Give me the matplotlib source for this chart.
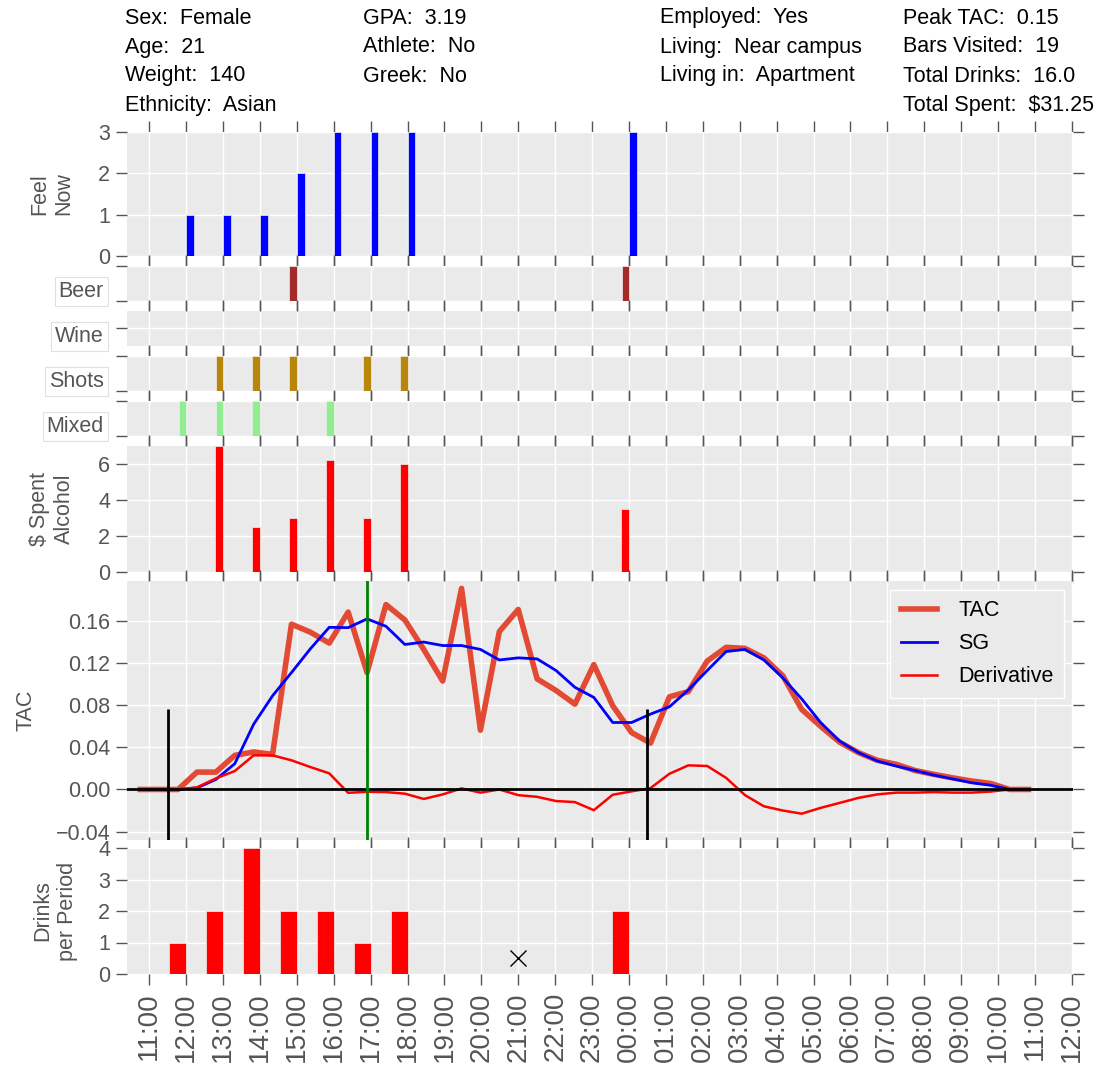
import matplotlib
matplotlib.use("Agg")
import matplotlib.pyplot as plt
import numpy as np
from matplotlib.ticker import FuncFormatter

plt.rcParams['font.family'] = ['Liberation Sans', 'DejaVu Sans']

# participant summary shown above the panels
col_personal = ["Sex:  Female", "Age:  21", "Weight:  140", "Ethnicity:  Asian"]
col_school = ["GPA:  3.19", "Athlete:  No", "Greek:  No"]
col_living = ["Employed:  Yes", "Living:  Near campus", "Living in:  Apartment"]
col_totals = ["Peak TAC:  0.15", "Bars Visited:  19", "Total Drinks:  16.0", "Total Spent:  $31.25"]

# hourly survey answers (hours counted from midnight of the first day)
feel_hours = [12, 13, 14, 15, 16, 17, 18, 24]
feel_now = [1, 1, 1, 2, 3, 3, 3, 3]
beer_hours = [15, 24]
wine_hours = []
shots_hours = [13, 14, 15, 17, 18]
mixed_hours = [12, 13, 14, 16]
spent_hours = [13, 14, 15, 16, 17, 18, 24]
spent = [7.0, 2.5, 3.0, 6.25, 3.0, 6.0, 3.5]
drink_hours = [12, 13, 14, 15, 16, 17, 18, 24]
drinks = [1, 2, 4, 2, 2, 1, 2, 2]
missing_hours = [21]

# transdermal alcohol readings, one every ~31 minutes from 10:46
tac_start = 10.76
tac_step = 0.512
tac = [0, 0, 0, 0.0165, 0.0165, 0.0324, 0.0356, 0.0334, 0.157, 0.1494,
       0.139, 0.1685, 0.111, 0.1756, 0.161, 0.133, 0.103, 0.191, 0.0563, 0.150,
       0.171, 0.105, 0.094, 0.081, 0.1186, 0.0795, 0.054, 0.044, 0.088, 0.093,
       0.122, 0.135, 0.134, 0.125, 0.108, 0.076, 0.060, 0.045, 0.035, 0.0277,
       0.0239, 0.018, 0.0143, 0.011, 0.008, 0.0057, 0, 0]
tac_sg = [0, 0, 0, 0.0015, 0.0095, 0.0245, 0.062, 0.089, 0.111, 0.1336,
          0.154, 0.1537, 0.162, 0.155, 0.1377, 0.140, 0.1367, 0.1367, 0.133, 0.123,
          0.125, 0.124, 0.113, 0.097, 0.0874, 0.0636, 0.0636, 0.0716, 0.0785, 0.0945,
          0.113, 0.131, 0.133, 0.123, 0.106, 0.086, 0.0636, 0.046, 0.035, 0.027,
          0.0222, 0.018, 0.0136, 0.010, 0.0063, 0.004, 0, 0]
tac_deriv = [0, 0, 0, 0.002, 0.0105, 0.0175, 0.0324, 0.0324, 0.0277, 0.0213,
             0.0153, -0.0032, -0.0022, -0.0025, -0.004, -0.009, -0.0047, 0.001, -0.003, 0.0,
             -0.0054, -0.007, -0.011, -0.012, -0.0197, -0.005, -0.0018, 0.0013, 0.0149, 0.0229,
             0.0223, 0.011, -0.0054, -0.016, -0.020, -0.023, -0.0175, -0.0128, -0.008, -0.0047,
             -0.003, -0.003, -0.0025, -0.003, -0.003, -0.002, 0, 0]
session_bounds = [11.5, 24.5]
bound_height = 0.076

hour_ticks = list(range(11, 37))
hour_labels = ["%02d:00" % (h % 24) for h in hour_ticks]

BG = '#EAEAEA'
GREY = '#555555'
FS = 15.5
W, H = 1113, 1065
X0, X1 = 127, 1073

fig = plt.figure(figsize=(W / 100, H / 100), dpi=100)


def panel(top, bottom):
    ax = fig.add_axes([X0 / W, 1 - bottom / H, (X1 - X0) / W, (bottom - top) / H])
    ax.set_facecolor(BG)
    for s in ax.spines.values():
        s.set_visible(False)
    ax.set_xlim(10.4, 36.03)
    ax.set_xticks(hour_ticks)
    ax.grid(True, color='white', linewidth=1)
    ax.set_axisbelow(True)
    ax.tick_params(direction='out', length=8, width=1, color=GREY, labelcolor=GREY,
                   labelsize=FS, top=True, right=True, labelbottom=False, pad=4)
    return ax


def side_label(top, bottom, text):
    y = 1 - ((top + bottom) / 2 + 8) / H
    fig.text(104 / W, y, text, ha='right', va='center', fontsize=FS, color=GREY,
             bbox=dict(boxstyle='square,pad=0.18', facecolor='white', edgecolor='#E0E0E0', linewidth=0.8))


def left_title(x, top, bottom, text):
    fig.text(x / W, 1 - (top + bottom) / 2 / H, text, rotation=90, ha='center', va='center',
             fontsize=FS, color=GREY, multialignment='center')


bar_kw = dict(align='edge', edgecolor='#EEEEEE', linewidth=0.5)

# feel now
ax = panel(132, 256)
ax.bar(feel_hours, feel_now, width=0.21, color='blue', **bar_kw)
ax.set_ylim(0, 3)
ax.set_yticks([0, 1, 2, 3])
left_title(52, 132, 256, "Feel\nNow")

# drink types
types = [("Beer", beer_hours, 'brown', 266, 301),
         ("Wine", wine_hours, 'purple', 311, 346),
         ("Shots", shots_hours, 'darkgoldenrod', 356, 391),
         ("Mixed", mixed_hours, 'lightgreen', 401, 436)]
for name, hours, color, top, bottom in types:
    ax = panel(top, bottom)
    if hours:
        ax.bar(hours, [1] * len(hours), width=-0.2, color=color, **bar_kw)
        ax.set_ylim(0, 1)
        ax.set_yticks([0, 1])
    else:
        ax.set_ylim(-0.5, 0.5)
        ax.set_yticks([0])
    ax.tick_params(labelleft=False)
    side_label(top, bottom, name)

# money spent
ax = panel(446, 572)
ax.bar(spent_hours, spent, width=-0.21, color='red', **bar_kw)
ax.set_ylim(0, 7)
ax.set_yticks([0, 2, 4, 6])
left_title(52, 446, 572, "$ Spent\nAlcohol")

# TAC curves
times = tac_start + tac_step * np.arange(len(tac))
ax = panel(581, 840)
ax.plot(times, tac, color='#E24A33', linewidth=4, label='TAC')
ax.plot(times, tac_sg, color='blue', linewidth=2, label='SG')
ax.plot(times, tac_deriv, color='red', linewidth=1.8, label='Derivative')
ax.axhline(0, color='black', linewidth=2)
ax.vlines(session_bounds, -0.06, bound_height, color='black', linewidth=2)
ax.axvline(times[int(np.argmax(tac_sg))], color='green', linewidth=2)
ax.set_ylim(-0.048, 0.198)
ax.set_yticks([-0.04, 0, 0.04, 0.08, 0.12, 0.16])
ax.yaxis.set_major_formatter(FuncFormatter(lambda v, _: ("%.2f" % v).replace('-', '\u2212')))
ax.legend(loc='upper right', fontsize=FS, handlelength=1.66, handletextpad=1.0,
          labelspacing=0.55, borderpad=0.5, borderaxespad=0.4,
          facecolor=BG, edgecolor='white', framealpha=1, fancybox=False)
left_title(26, 581, 840, "TAC")

# drinks per period
ax = panel(848, 974)
ax.bar(drink_hours, drinks, width=-0.46, color='red', **bar_kw)
ax.plot(missing_hours, [0.5] * len(missing_hours), 'x', color='black', markersize=12, markeredgewidth=1)
ax.set_ylim(0, 4)
ax.set_yticks([0, 1, 2, 3, 4])
ax.set_xticklabels(hour_labels, rotation=90)
ax.tick_params(axis='x', labelbottom=True, labelsize=20, pad=5)
left_title(55, 848, 974, "Drinks\nper Period")

# summary header
col_x = [125, 363, 660, 903]
row_y = [18, 47, 76, 106]
for cx, col in zip(col_x, [col_personal, col_school, col_living, col_totals]):
    for ry, line in zip(row_y, col):
        fig.text(cx / W, 1 - ry / H, line, ha='left', va='center', fontsize=FS, color='black')

fig.savefig('out.png', dpi=100)
